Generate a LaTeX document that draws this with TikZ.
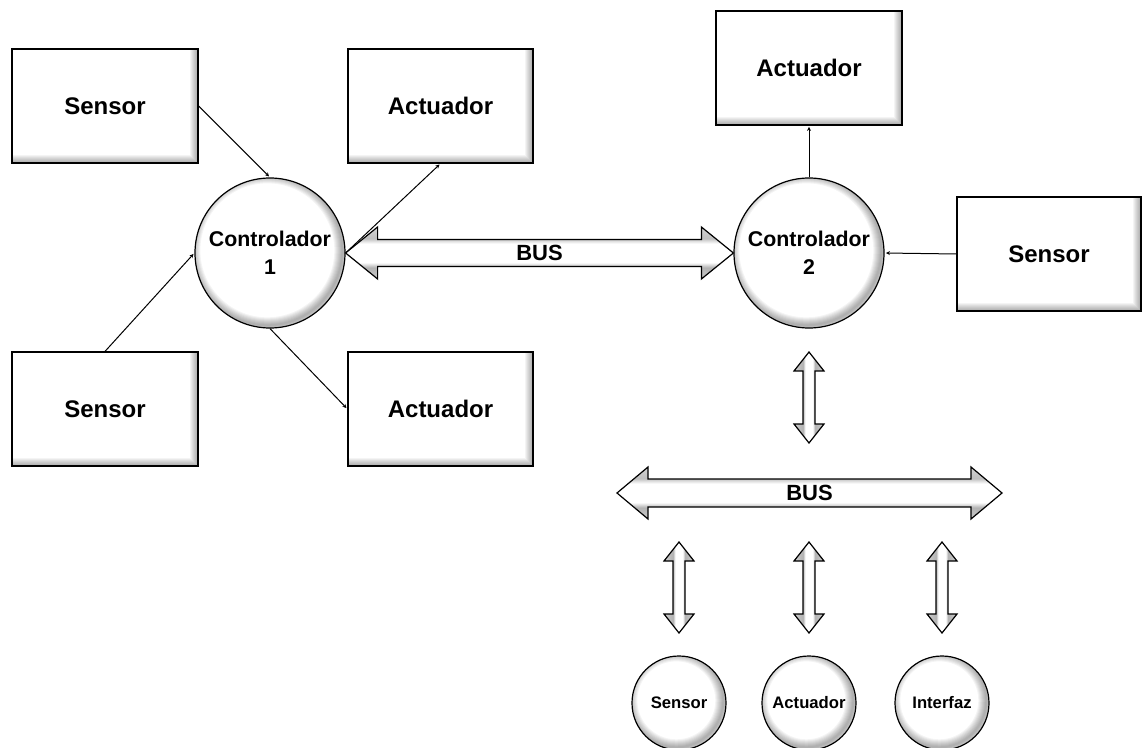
\documentclass[tikz,border=0pt]{standalone}
\usepackage{fontspec}
\setmainfont{Liberation Sans}
\usetikzlibrary{calc,arrows.meta}
\pgfdeclareverticalshading{hglow}{100bp}{color(0bp)=(white); color(36bp)=(black!30); color(41bp)=(white); color(59bp)=(white); color(64bp)=(black!25); color(100bp)=(white)}
\pgfdeclarehorizontalshading{vglow}{100bp}{color(0bp)=(white); color(40bp)=(black!30); color(44bp)=(white); color(56bp)=(white); color(60bp)=(black!30); color(100bp)=(white)}
\newcommand\hdarrow[6]{%
  \draw[#6] (#1) -- ($(#1)+(#3,-#4)$) -- ($(#1)+(#3,-#5)$) -- ($(#2)+(-#3,-#5)$) -- ($(#2)+(-#3,-#4)$) -- (#2)
   -- ($(#2)+(-#3,#4)$) -- ($(#2)+(-#3,#5)$) -- ($(#1)+(#3,#5)$) -- ($(#1)+(#3,#4)$) -- cycle;}
\newcommand\vdarrow[6]{%
  \draw[#6] (#1) -- ($(#1)+(#4,#3)$) -- ($(#1)+(#5,#3)$) -- ($(#2)+(#5,-#3)$) -- ($(#2)+(#4,-#3)$) -- (#2)
   -- ($(#2)+(-#4,-#3)$) -- ($(#2)+(-#5,-#3)$) -- ($(#1)+(-#5,#3)$) -- ($(#1)+(-#4,#3)$) -- cycle;}
\tikzset{
  box/.style={draw, line width=0.9pt, fill=white, inner sep=0pt,
    minimum width=139.5pt, minimum height=85.5pt,
    font=\bfseries\fontsize{18}{21}\selectfont,
    path picture={
      \foreach \w in {1.5,3,...,12}
        \draw[black, opacity=0.045, line width=\w pt]
          (path picture bounding box.south west) -- (path picture bounding box.south east)
          -- (path picture bounding box.north east);
    }},
  glowcirc/.style={path picture={
      \foreach \w in {1.5,3,...,12}
        \draw[black, opacity=0.045, line width=\w pt]
          ([xshift=-2pt,yshift=2pt]path picture bounding box.center) circle (#1);
    }},
  ctrl/.style={circle, draw, line width=0.9pt, fill=white, glowcirc=56.25pt, inner sep=0pt,
    minimum size=112.5pt, align=center, font=\bfseries\fontsize{16}{21}\selectfont},
  small/.style={circle, draw, line width=0.9pt, fill=white, glowcirc=35.25pt, inner sep=0pt,
    minimum size=70.5pt, font=\bfseries\fontsize{12.5}{15}\selectfont},
  conn/.style={line width=0.75pt, -{Stealth[length=3pt,width=3pt]}, shorten >=1pt},
  hbig/.style={line width=0.9pt, shade, shading=hglow},
  vbig/.style={line width=0.9pt, shade, shading=vglow},
  buslabel/.style={font=\bfseries\fontsize{16.5}{20}\selectfont, inner sep=0pt}
}
\begin{document}
\begin{tikzpicture}[x=0.75pt,y=-0.75pt]
\useasboundingbox (0,0) rectangle (1142,748);
% boxes
\node[box] (s1) at (105,106) {Sensor};
\node[box, minimum width=138.75pt] (a1) at (440.5,106) {Actuador};
\node[box] (s2) at (105,409) {Sensor};
\node[box, minimum width=138.75pt] (a2) at (440.5,409) {Actuador};
\node[box] (a3) at (809,68) {Actuador};
\node[box, minimum width=138pt] (s3) at (1049,254) {Sensor};
% controllers
\node[ctrl] (c1) at (270,253) {Controlador\\1};
\node[ctrl] (c2) at (809,253) {Controlador\\2};
% small circles
\node[small] (ss) at (679,703) {Sensor};
\node[small] (sa) at (809,703) {Actuador};
\node[small] (si) at (942,703) {Interfaz};
% connectors
\draw[conn] (s1.east) -- (c1.north);
\draw[conn] (c1.east) -- (a1.south);
\draw[conn] (s2.north) -- (c1.west);
\draw[conn] (c1.south) -- (a2.west);
\draw[conn] (c2.north) -- (a3.south);
\draw[conn] (s3.west) -- (c2.east);
% top bus
\hdarrow{c1.east}{c2.west}{32}{26}{13.5}{hbig}
\node[buslabel] (bus1) at ($(c1.east)!0.5!(c2.west)$) {BUS};
% vertical arrow controller 2 to lower bus
\coordinate (v0t) at (809,352);
\coordinate (v0b) at (809,443);
\vdarrow{v0t}{v0b}{19}{15}{6}{vbig}
% lower bus
\coordinate (bus2L) at (617,493);
\coordinate (bus2R) at (1002,493);
\hdarrow{bus2L}{bus2R}{31}{26}{14}{hbig}
\node[buslabel] (bus2) at ($(bus2L)!0.5!(bus2R)$) {BUS};
% small vertical arrows
\coordinate (v1t) at (679,542); \coordinate (v1b) at (679,633);
\coordinate (v2t) at (809,542); \coordinate (v2b) at (809,633);
\coordinate (v3t) at (942,542); \coordinate (v3b) at (942,633);
\vdarrow{v1t}{v1b}{19}{15}{6}{vbig}
\vdarrow{v2t}{v2b}{19}{15}{6}{vbig}
\vdarrow{v3t}{v3b}{19}{15}{6}{vbig}
\end{tikzpicture}
\end{document}
